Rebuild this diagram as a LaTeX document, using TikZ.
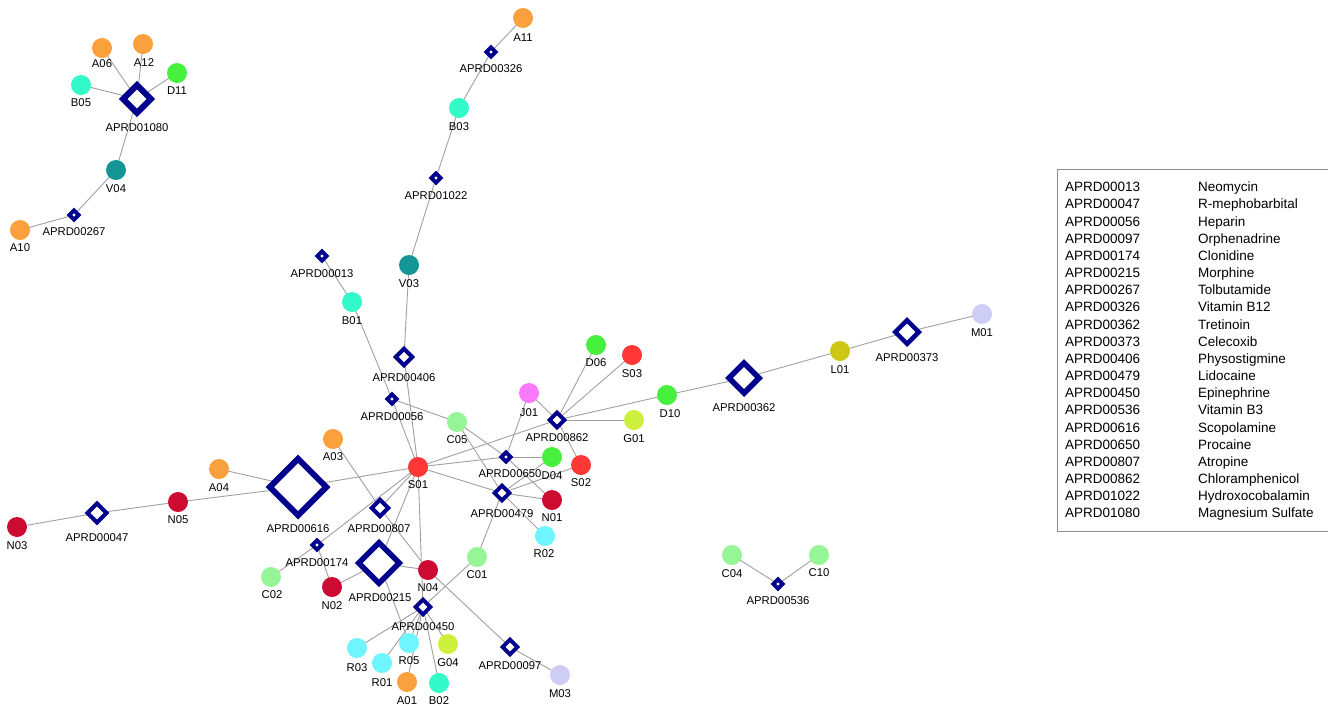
\documentclass[tikz,border=0pt]{standalone}
\usepackage{fontspec}
\setmainfont{Liberation Sans}
\usetikzlibrary{shapes.geometric,backgrounds}
\definecolor{dnavy}{RGB}{0,0,140}
\definecolor{corange}{RGB}{250,160,60}
\definecolor{cgreen}{RGB}{70,240,60}
\definecolor{cturq}{RGB}{50,250,200}
\definecolor{cteal}{RGB}{20,150,150}
\definecolor{cred}{RGB}{255,55,55}
\definecolor{ccrim}{RGB}{205,10,50}
\definecolor{cpink}{RGB}{250,120,250}
\definecolor{cygreen}{RGB}{205,240,60}
\definecolor{colive}{RGB}{205,200,20}
\definecolor{clav}{RGB}{205,205,245}
\definecolor{clgreen}{RGB}{150,245,150}
\definecolor{clcyan}{RGB}{110,245,255}
\definecolor{egray}{RGB}{160,160,160}
\definecolor{boxgray}{RGB}{140,140,140}
\begin{document}
\begin{tikzpicture}[x=1pt,y=-1pt,
  tgt/.style={circle,fill=#1,inner sep=0pt,outer sep=0pt,minimum size=20pt},
  dia/.style 2 args={diamond,aspect=1,draw=dnavy,fill=white,inner sep=0pt,outer sep=0pt,minimum size=#1,line width=#2},
  dS/.style={dia={9.3pt}{4pt}},
  dM/.style={dia={14.8pt}{4pt}},
  dMM/.style={dia={16.6pt}{4pt}},
  dL/.style={dia={19pt}{4.2pt}},
  lbl/.style={font=\fontsize{11.3}{12}\selectfont,inner sep=0pt,text height=8.1pt,text depth=0pt},
  leg/.style={font=\fontsize{13.5}{14}\selectfont,inner sep=0pt,text height=9.6pt,text depth=0pt,anchor=west},
  edge/.style={draw=egray,line width=0.9pt}]
\useasboundingbox (0,0) rectangle (1328,705);

% target circles
\node[tgt=corange] (A06) at (102,48) {};
\node[tgt=corange] (A12) at (143,44) {};
\node[tgt=cgreen] (D11) at (177,73) {};
\node[tgt=cturq] (B05) at (81,85) {};
\node[tgt=cteal] (V04) at (116,170) {};
\node[tgt=corange] (A10) at (20,230) {};
\node[tgt=corange] (A11) at (523,18) {};
\node[tgt=cturq] (B03) at (459,108) {};
\node[tgt=cteal] (V03) at (409,265) {};
\node[tgt=cturq] (B01) at (352,302) {};
\node[tgt=clgreen] (C05) at (457,422) {};
\node[tgt=corange] (A03) at (333,439) {};
\node[tgt=cred] (S01) at (418,467) {};
\node[tgt=cpink] (J01) at (529,393) {};
\node[tgt=cgreen] (D06) at (596,345) {};
\node[tgt=cred] (S03) at (632,355) {};
\node[tgt=cygreen] (G01) at (634,420) {};
\node[tgt=cgreen] (D10) at (667,395) {};
\node[tgt=colive] (L01) at (840,351) {};
\node[tgt=clav] (M01) at (982,314) {};
\node[tgt=cgreen] (D04) at (552,457) {};
\node[tgt=cred] (S02) at (581,465) {};
\node[tgt=ccrim] (N01) at (552,500) {};
\node[tgt=clcyan] (R02) at (545,536) {};
\node[tgt=corange] (A04) at (219,469) {};
\node[tgt=ccrim] (N05) at (178,502) {};
\node[tgt=ccrim] (N03) at (17,527) {};
\node[tgt=clgreen] (C02) at (271,577) {};
\node[tgt=ccrim] (N02) at (332,587) {};
\node[tgt=ccrim] (N04) at (428,570) {};
\node[tgt=clgreen] (C01) at (477,557) {};
\node[tgt=clcyan] (R03) at (357,648) {};
\node[tgt=clcyan] (R05) at (409,643) {};
\node[tgt=cygreen] (G04) at (448,644) {};
\node[tgt=clcyan] (R01) at (382,663) {};
\node[tgt=corange] (A01) at (407,682) {};
\node[tgt=cturq] (B02) at (439,683) {};
\node[tgt=clav] (M03) at (560,675) {};
\node[tgt=clgreen] (C04) at (732,555) {};
\node[tgt=clgreen] (C10) at (819,555) {};

% drug diamonds
\node[dia={27.8pt}{6pt}] (D1080) at (137,99) {};
\node[dS] (D0267) at (74,215) {};
\node[dS] (D0326) at (491,52) {};
\node[dS] (D1022) at (436,178) {};
\node[dS] (D0013) at (322,256) {};
\node[dMM] (D0406) at (404,357) {};
\node[dS] (D0056) at (392,399) {};
\node[dM] (D0862) at (557,420) {};
\node[dia={30.2pt}{5.5pt}] (D0362) at (744,378) {};
\node[dia={23.6pt}{4.5pt}] (D0373) at (907,332) {};
\node[dS] (D0650) at (506,457) {};
\node[dM] (D0479) at (502,493) {};
\node[dia={56.5pt}{6pt}] (D0616) at (298,487) {};
\node[dMM] (D0807) at (380,508) {};
\node[dL] (D0047) at (97,513) {};
\node[dS] (D0174) at (317,545) {};
\node[dia={40.5pt}{5.5pt}] (D0215) at (379,563) {};
\node[dM] (D0450) at (423,607) {};
\node[dM] (D0097) at (510,647) {};
\node[dS] (D0536) at (778,584) {};

% labels
\node[lbl] (A06l) at (102,63) {A06};
\node[lbl] (A12l) at (144,62) {A12};
\node[lbl] (D11l) at (177,90) {D11};
\node[lbl] (B05l) at (81,102) {B05};
\node[lbl] (V04l) at (116,188) {V04};
\node[lbl] (A10l) at (20,247) {A10};
\node[lbl] (A11l) at (523,37) {A11};
\node[lbl] (B03l) at (459,126) {B03};
\node[lbl] (V03l) at (409,283) {V03};
\node[lbl] (B01l) at (352,320) {B01};
\node[lbl] (C05l) at (457,439) {C05};
\node[lbl] (A03l) at (333,456) {A03};
\node[lbl] (S01l) at (418,484) {S01};
\node[lbl] (J01l) at (529,412) {J01};
\node[lbl] (D06l) at (596,362) {D06};
\node[lbl] (S03l) at (632,373) {S03};
\node[lbl] (G01l) at (634,438) {G01};
\node[lbl] (D10l) at (670,413) {D10};
\node[lbl] (L01l) at (840,369) {L01};
\node[lbl] (M01l) at (982,332) {M01};
\node[lbl] (D04l) at (552,475) {D04};
\node[lbl] (S02l) at (581,482) {S02};
\node[lbl] (N01l) at (552,517) {N01};
\node[lbl] (R02l) at (544,553) {R02};
\node[lbl] (A04l) at (219,487) {A04};
\node[lbl] (N05l) at (178,519) {N05};
\node[lbl] (N03l) at (17,545) {N03};
\node[lbl] (C02l) at (272,594) {C02};
\node[lbl] (N02l) at (332,605) {N02};
\node[lbl] (N04l) at (428,587) {N04};
\node[lbl] (C01l) at (477,574) {C01};
\node[lbl] (R03l) at (357,667) {R03};
\node[lbl] (R05l) at (409,660) {R05};
\node[lbl] (G04l) at (448,662) {G04};
\node[lbl] (R01l) at (382,682) {R01};
\node[lbl] (A01l) at (407,700) {A01};
\node[lbl] (B02l) at (439,700) {B02};
\node[lbl] (M03l) at (560,693) {M03};
\node[lbl] (C04l) at (732,573) {C04};
\node[lbl] (C10l) at (819,572) {C10};

\node[lbl] (D1080l) at (137,127) {APRD01080};
\node[lbl] (D0267l) at (74,231) {APRD00267};
\node[lbl] (D0326l) at (491,68) {APRD00326};
\node[lbl] (D1022l) at (436,195) {APRD01022};
\node[lbl] (D0013l) at (322,273) {APRD00013};
\node[lbl] (D0406l) at (404,377) {APRD00406};
\node[lbl] (D0056l) at (392,416) {APRD00056};
\node[lbl] (D0862l) at (557,437) {APRD00862};
\node[lbl] (D0362l) at (744,407) {APRD00362};
\node[lbl] (D0373l) at (907,357) {APRD00373};
\node[lbl] (D0650l) at (510,473) {APRD00650};
\node[lbl] (D0479l) at (502,513) {APRD00479};
\node[lbl] (D0616l) at (298,528) {APRD00616};
\node[lbl] (D0807l) at (379,528) {APRD00807};
\node[lbl] (D0047l) at (97,537) {APRD00047};
\node[lbl] (D0174l) at (317,562) {APRD00174};
\node[lbl] (D0215l) at (380,597) {APRD00215};
\node[lbl] (D0450l) at (423,626) {APRD00450};
\node[lbl] (D0097l) at (510,665) {APRD00097};
\node[lbl] (D0536l) at (778,600) {APRD00536};

% edges
\begin{pgfonlayer}{background}
\foreach \a/\b in {A06/D1080,A12/D1080,D11/D1080,B05/D1080,D1080/V04,V04/D0267,D0267/A10,
  A11/D0326,D0326/B03,B03/D1022,D1022/V03,V03/D0406,D0406/S01,
  D0013/B01,B01/D0056,D0056/S01,D0056/C05,
  A03/D0807,D0807/S01,D0807/N04,
  S01/D0616,D0616/A04,D0616/N05,N05/D0047,D0047/N03,
  S01/D0174,D0174/C02,D0174/N02,
  S01/D0215,D0215/N02,D0215/N04,D0215/R05,
  S01/D0450,D0450/C01,D0450/R03,D0450/R01,D0450/R05,D0450/A01,D0450/B02,D0450/G04,
  N04/D0097,D0097/M03,
  S01/D0862,D0862/J01,D0862/D06,D0862/S03,D0862/G01,D0862/D10,D0862/S02,
  D10/D0362,D0362/L01,L01/D0373,D0373/M01,
  S01/D0650,D0650/J01,D0650/D04,D0650/N01,C05/D0650,
  S01/D0479,C05/D0479,D0479/D04,D0479/S02,D0479/N01,D0479/R02,D0479/C01,
  C04/D0536,C10/D0536}
  \draw[edge] (\a.center) -- (\b.center);
\end{pgfonlayer}

% legend
\draw[boxgray,line width=1pt] (1057.5,169.5) rectangle (1345,531.5);
\foreach \c/\n [count=\i from 0] in {APRD00013/Neomycin,APRD00047/R-mephobarbital,APRD00056/Heparin,APRD00097/Orphenadrine,APRD00174/Clonidine,APRD00215/Morphine,APRD00267/Tolbutamide,APRD00326/Vitamin B12,APRD00362/Tretinoin,APRD00373/Celecoxib,APRD00406/Physostigmine,APRD00479/Lidocaine,APRD00450/Epinephrine,APRD00536/Vitamin B3,APRD00616/Scopolamine,APRD00650/Procaine,APRD00807/Atropine,APRD00862/Chloramphenicol,APRD01022/Hydroxocobalamin,APRD01080/Magnesium Sulfate}{
  \node[leg] (lc\i) at (1065,187+\i*17.16) {\c};
  \node[leg] (ln\i) at (1198,187+\i*17.16) {\n};
}
\end{tikzpicture}
\end{document}
